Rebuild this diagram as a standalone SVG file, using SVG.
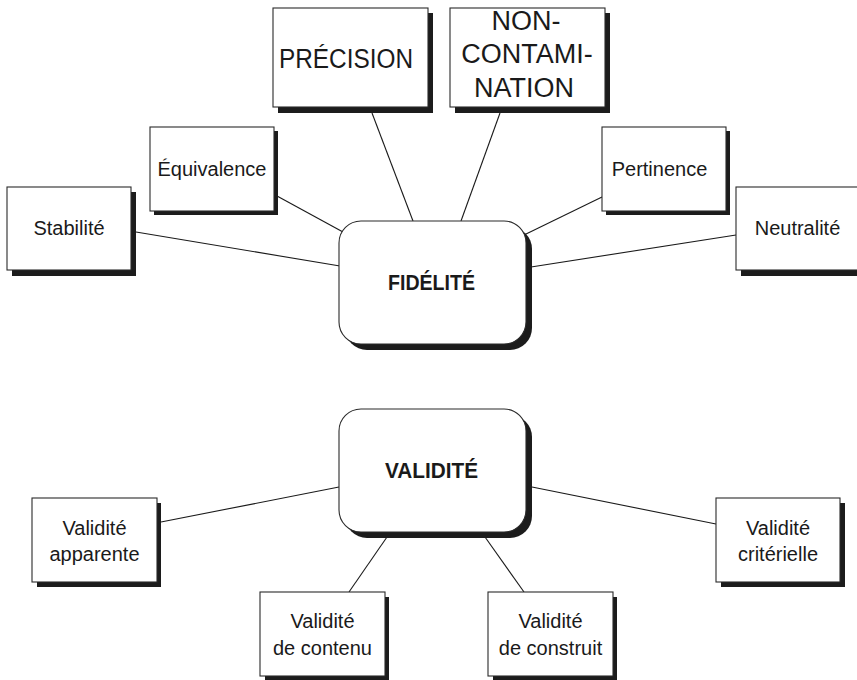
<svg xmlns="http://www.w3.org/2000/svg" width="857" height="680" viewBox="0 0 857 680">
  <style>
    .link { stroke: #1a1a1a; stroke-width: 1.1; fill: none; }
    .box { fill: #ffffff; stroke: #2a2a2a; stroke-width: 1.1; }
    .shadow { fill: #1c1c1c; }
    .lbl { font-family: "Liberation Sans", Arial, sans-serif; font-size: 20px; fill: #1a1a1a; text-anchor: middle; }
    .big { font-size: 27px; }
    .hub { font-weight: bold; font-size: 22px; }
  </style>
  <rect width="857" height="680" fill="#ffffff"/>

  <!-- connectors -->
  <g id="connectors">
    <line class="link" x1="136" y1="232" x2="340" y2="266"/>
    <line class="link" x1="277" y1="196" x2="343" y2="232"/>
    <line class="link" x1="372" y1="113" x2="413" y2="221"/>
    <line class="link" x1="500" y1="113" x2="461" y2="221"/>
    <line class="link" x1="602" y1="197" x2="524" y2="235"/>
    <line class="link" x1="736" y1="235" x2="531" y2="267"/>
    <line class="link" x1="161" y1="522" x2="339" y2="487"/>
    <line class="link" x1="349" y1="592" x2="387" y2="537"/>
    <line class="link" x1="524" y1="592" x2="485" y2="537"/>
    <line class="link" x1="532" y1="487" x2="716" y2="524"/>
  </g>

  <!-- reliability hub -->
  <g id="fidelite">
    <rect class="shadow" x="345" y="227" width="187" height="123" rx="22"/>
    <rect class="box" x="339" y="221" width="187" height="123" rx="22"/>
    <text class="lbl hub" x="431.5" y="290" textLength="87" lengthAdjust="spacingAndGlyphs">FIDÉLITÉ</text>
  </g>

  <g id="stabilite">
    <rect class="shadow" x="12" y="192" width="124" height="84"/>
    <rect class="box" x="7" y="187" width="124" height="83"/>
    <text class="lbl" x="69" y="235">Stabilité</text>
  </g>

  <g id="equivalence">
    <rect class="shadow" x="154" y="131" width="124" height="84"/>
    <rect class="box" x="150" y="127" width="124" height="84"/>
    <text class="lbl" x="212" y="176">Équivalence</text>
  </g>

  <g id="precision">
    <rect class="shadow" x="278" y="13" width="155" height="100"/>
    <rect class="box" x="273" y="8" width="155" height="99"/>
    <text class="lbl big" x="346" y="68" textLength="134" lengthAdjust="spacingAndGlyphs">PRÉCISION</text>
  </g>

  <g id="non-contamination">
    <rect class="shadow" x="455" y="13" width="155" height="100"/>
    <rect class="box" x="450" y="8" width="155" height="99"/>
    <text class="lbl big" x="526" y="30">NON-</text>
    <text class="lbl big" x="527" y="63">CONTAMI-</text>
    <text class="lbl big" x="524" y="97">NATION</text>
  </g>

  <g id="pertinence">
    <rect class="shadow" x="606" y="131" width="124" height="84"/>
    <rect class="box" x="602" y="127" width="124" height="84"/>
    <text class="lbl" x="659.5" y="176">Pertinence</text>
  </g>

  <g id="neutralite">
    <rect class="shadow" x="741" y="192" width="124" height="84"/>
    <rect class="box" x="736" y="187" width="124" height="83"/>
    <text class="lbl" x="797.5" y="235">Neutralité</text>
  </g>

  <!-- validity hub -->
  <g id="validite">
    <rect class="shadow" x="345" y="415" width="187" height="123" rx="22"/>
    <rect class="box" x="339" y="409" width="187" height="123" rx="22"/>
    <text class="lbl hub" x="431.5" y="478" textLength="93" lengthAdjust="spacingAndGlyphs">VALIDITÉ</text>
  </g>

  <g id="validite-apparente">
    <rect class="shadow" x="37" y="503" width="124" height="84"/>
    <rect class="box" x="32" y="498" width="125" height="84"/>
    <text class="lbl" x="94.5" y="535">Validité</text>
    <text class="lbl" x="94.5" y="561">apparente</text>
  </g>

  <g id="validite-contenu">
    <rect class="shadow" x="265" y="597" width="124" height="84"/>
    <rect class="box" x="260" y="592" width="125" height="84"/>
    <text class="lbl" x="322.5" y="628">Validité</text>
    <text class="lbl" x="322.5" y="655">de contenu</text>
  </g>

  <g id="validite-construit">
    <rect class="shadow" x="493" y="597" width="124" height="84"/>
    <rect class="box" x="488" y="592" width="125" height="84"/>
    <text class="lbl" x="550.5" y="628">Validité</text>
    <text class="lbl" x="550.5" y="655">de construit</text>
  </g>

  <g id="validite-criterielle">
    <rect class="shadow" x="721" y="503" width="124" height="84"/>
    <rect class="box" x="716" y="498" width="124" height="84"/>
    <text class="lbl" x="778" y="535">Validité</text>
    <text class="lbl" x="778" y="561">critérielle</text>
  </g>
</svg>
